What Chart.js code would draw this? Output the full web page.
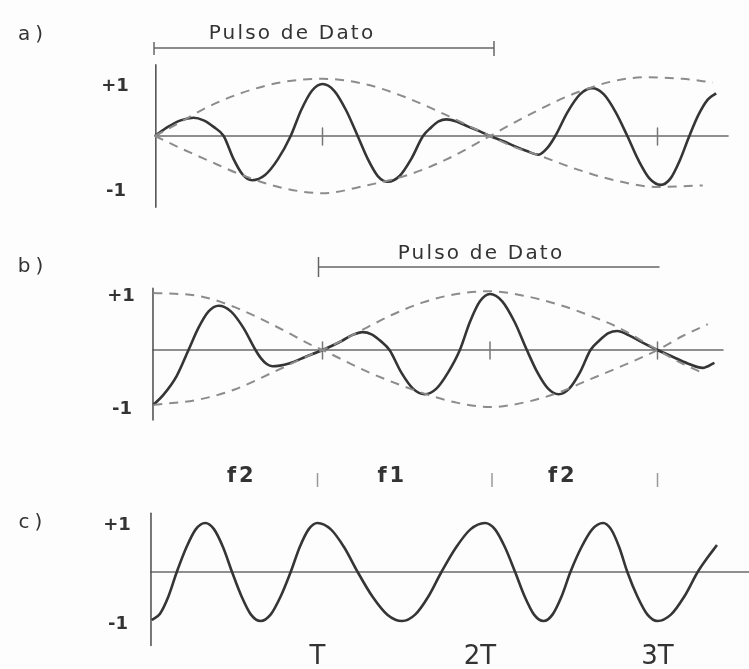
<!DOCTYPE html>
<html>
<head>
<meta charset="utf-8">
<script src="https://cdn.jsdelivr.net/npm/chart.js@4.4.0/dist/chart.umd.min.js"></script>
<style>
  html, body { margin: 0; padding: 0; background: #fdfdfd; }
  #wrap { position: relative; width: 749px; height: 669px; }
</style>
</head>
<body>
<div id="wrap"><canvas id="chart" width="749" height="669"></canvas></div>
<script>
// ── DATA (time in units of T, amplitude in units of the +1/-1 marks) ──
// a) signal and its two dashed envelopes
const tA = [0, 0.077, 0.153, 0.23, 0.29, 0.35, 0.41, 0.467, 0.523, 0.58, 0.657, 0.733, 0.81, 0.873, 0.937, 1.0, 1.07, 1.14, 1.21, 1.27, 1.33, 1.39, 1.46, 1.53, 1.60, 1.647, 1.693, 1.74, 1.80, 1.87, 1.94, 2.0, 2.08, 2.15, 2.22, 2.29, 2.34, 2.39, 2.463, 2.537, 2.61, 2.68, 2.75, 2.82, 2.887, 2.953, 3.02, 3.077, 3.133, 3.19, 3.245, 3.30, 3.35];
const vA = [0, 0.175, 0.30, 0.35, 0.30, 0.175, 0, -0.43, -0.74, -0.85, -0.75, -0.45, 0, 0.5, 0.87, 1.0, 0.87, 0.5, 0, -0.44, -0.77, -0.88, -0.77, -0.44, 0, 0.16, 0.28, 0.32, 0.28, 0.18, 0.09, 0, -0.1, -0.2, -0.29, -0.36, -0.24, 0, 0.46, 0.8, 0.92, 0.8, 0.46, 0, -0.47, -0.82, -0.94, -0.82, -0.47, 0, 0.41, 0.7, 0.82];
const tEnvA1 = [0, 0.17, 0.31, 0.51, 0.75, 1.0, 1.25, 1.5, 1.74, 2.0, 2.15, 2.29, 2.5, 2.73, 3.0, 3.27];
const vEnvA1 = [0, 0.3, 0.55, 0.82, 1.03, 1.1, 1.0, 0.74, 0.4, 0, -0.22, -0.37, -0.62, -0.84, -0.98, -0.95];
const tEnvA2 = [0, 0.17, 0.31, 0.51, 0.75, 1.0, 1.25, 1.52, 1.74, 2.0, 2.17, 2.46, 2.73, 2.94, 3.15, 3.33];
const vEnvA2 = [0, -0.26, -0.46, -0.74, -0.99, -1.1, -0.96, -0.74, -0.45, 0, 0.3, 0.76, 1.05, 1.13, 1.1, 1.03];

// b) signal and its two dashed envelopes
const tB = [-0.01, 0.05, 0.13, 0.20, 0.26, 0.32, 0.38, 0.453, 0.527, 0.60, 0.633, 0.667, 0.70, 0.80, 0.90, 1.0, 1.06, 1.12, 1.18, 1.24, 1.293, 1.347, 1.40, 1.47, 1.54, 1.61, 1.68, 1.75, 1.82, 1.88, 1.94, 2.0, 2.073, 2.147, 2.22, 2.283, 2.347, 2.41, 2.473, 2.537, 2.60, 2.653, 2.707, 2.76, 2.83, 2.90, 3.0, 3.09, 3.18, 3.27, 3.34];
const vB = [-0.98, -0.8, -0.46, 0, 0.4, 0.69, 0.79, 0.69, 0.4, 0, -0.15, -0.25, -0.29, -0.24, -0.12, 0, 0.08, 0.17, 0.27, 0.32, 0.28, 0.16, 0, -0.4, -0.69, -0.79, -0.69, -0.4, 0, 0.5, 0.87, 1.0, 0.87, 0.5, 0, -0.4, -0.69, -0.79, -0.69, -0.4, 0, 0.17, 0.3, 0.34, 0.26, 0.15, 0, -0.12, -0.24, -0.32, -0.23];
const tEnvB1 = [-0.01, 0.27, 0.48, 0.71, 0.94, 1.0, 1.27, 1.46, 1.63, 1.80, 2.0, 2.2, 2.4, 2.6, 2.8, 3.0, 3.15, 3.3];
const vEnvB1 = [1.02, 0.96, 0.76, 0.44, 0.08, 0, -0.39, -0.62, -0.8, -0.94, -1.02, -0.94, -0.77, -0.52, -0.27, 0, 0.25, 0.46];
const tEnvB2 = [-0.01, 0.27, 0.48, 0.71, 0.94, 1.0, 1.27, 1.41, 1.6, 1.8, 2.0, 2.2, 2.4, 2.6, 2.76, 3.0, 3.14, 3.27];
const vEnvB2 = [-0.98, -0.88, -0.7, -0.39, -0.07, 0, 0.41, 0.62, 0.85, 1.0, 1.05, 0.97, 0.82, 0.61, 0.41, 0, -0.23, -0.41];

// c) FSK signal
const tC = [-0.02, 0.03, 0.08, 0.13, 0.187, 0.243, 0.30, 0.353, 0.407, 0.46, 0.517, 0.573, 0.63, 0.69, 0.75, 0.81, 0.863, 0.917, 0.97, 1.05, 1.13, 1.21, 1.298, 1.387, 1.475, 1.553, 1.632, 1.71, 1.797, 1.883, 1.97, 2.03, 2.09, 2.15, 2.207, 2.263, 2.32, 2.373, 2.427, 2.48, 2.545, 2.61, 2.675, 2.723, 2.772, 2.82, 2.88, 2.94, 3.0, 3.08, 3.16, 3.24, 3.30, 3.355];
const vC = [-0.98, -0.85, -0.5, 0, 0.5, 0.87, 1.0, 0.87, 0.5, 0, -0.5, -0.87, -1.0, -0.87, -0.5, 0, 0.5, 0.87, 1.0, 0.87, 0.5, 0, -0.5, -0.87, -1.0, -0.87, -0.5, 0, 0.5, 0.87, 1.0, 0.87, 0.5, 0, -0.5, -0.87, -1.0, -0.87, -0.5, 0, 0.5, 0.87, 1.0, 0.87, 0.5, 0, -0.5, -0.87, -1.0, -0.87, -0.5, 0, 0.3, 0.55];

// labels
const PANEL_LABELS = ['a)', 'b)', 'c)'];
const PULSE_TEXT = 'Pulso de Dato';
const PULSE_A = [0, 2];
const PULSE_B = [1, 3];
const T_TICKS = [1, 2, 3];
const T_LABELS = ['T', '2T', '3T'];
const F_LABELS = ['f2', 'f1', 'f2'];

// ── LAYOUT ─────────────────────────────────────────
const W = 749, H = 669;
const X0 = 155, TPX = 167.5;            // pixel of t=0, pixels per T
const PANELS = {
  ya: { zero: 136, unit: 52 },
  yb: { zero: 350, unit: 56 },
  yc: { zero: 572, unit: 49 },
};
const INK = '#353535';
const DASH = '#8c8c8c';
const FONT = '"DejaVu Sans", sans-serif';

const pts = (ts, vs) => ts.map((t, i) => ({ x: t, y: vs[i] }));

function yScale(p) {
  return { type: 'linear', display: false, min: -(H - p.zero) / p.unit, max: p.zero / p.unit };
}

function signal(ts, vs, axis) {
  return {
    data: pts(ts, vs), yAxisID: axis, borderColor: INK, borderWidth: 2.6,
    pointRadius: 0, cubicInterpolationMode: 'monotone', fill: false,
  };
}
function envelope(ts, vs, axis) {
  return {
    data: pts(ts, vs), yAxisID: axis, borderColor: DASH, borderWidth: 2,
    borderDash: [9, 7], pointRadius: 0, cubicInterpolationMode: 'monotone', fill: false,
  };
}

function seg(ctx, x1, y1, x2, y2) {
  ctx.beginPath();
  ctx.moveTo(x1, y1);
  ctx.lineTo(x2, y2);
  ctx.stroke();
}

function label(ctx, str, x, y, font, spacing) {
  ctx.font = `${font} ${FONT}`;
  if ('letterSpacing' in ctx) ctx.letterSpacing = (spacing || 0) + 'px';
  ctx.fillText(str, x, y);
}

// axes, zero lines, tick marks and texts
const decor = {
  id: 'decor',
  beforeDatasetsDraw(chart) {
    const { ctx, scales } = chart;
    const x = scales.x;
    const axes = [
      { id: 'ya', ax: 0.005, top: 1.37, bot: -1.37, z0: 0, z1: 3.42, ticks: [1, 3] },
      { id: 'yb', ax: -0.012, top: 1.1, bot: -1.25, z0: -0.012, z1: 3.39, ticks: [1, 2, 3] },
      { id: 'yc', ax: -0.024, top: 1.2, bot: -1.5, z0: -0.024, z1: 3.6, ticks: [] },
    ];
    ctx.save();
    ctx.lineCap = 'round';
    axes.forEach(a => {
      const y = scales[a.id];
      const y0 = y.getPixelForValue(0);
      ctx.strokeStyle = '#8f8f8f';
      ctx.lineWidth = 2;
      seg(ctx, x.getPixelForValue(a.z0), y0, x.getPixelForValue(a.z1), y0);
      ctx.strokeStyle = '#555';
      ctx.lineWidth = 1.6;
      const ax = x.getPixelForValue(a.ax);
      seg(ctx, ax, y.getPixelForValue(a.top), ax, y.getPixelForValue(a.bot));
      ctx.strokeStyle = '#777';
      ctx.lineWidth = 1.5;
      a.ticks.forEach(t => {
        const px = x.getPixelForValue(t);
        seg(ctx, px, y0 - 8, px, y0 + 9);
      });
    });
    ctx.restore();
  },
  afterDatasetsDraw(chart) {
    const { ctx, scales } = chart;
    const x = scales.x;
    const ya = scales.ya, yb = scales.yb, yc = scales.yc;
    ctx.save();
    ctx.fillStyle = '#333';
    ctx.textAlign = 'center';
    ctx.textBaseline = 'middle';

    // panel letters
    [35, 267, 523].forEach((py, i) => label(ctx, PANEL_LABELS[i], 33, py, '20px', 5));

    // +1 / -1
    [[ya, 115], [yb, 121], [yc, 117]].forEach(([s, px]) => {
      label(ctx, '+1', px, s.getPixelForValue(1) + 2, '600 18px', 0);
      label(ctx, '-1', px + 1, s.getPixelForValue(-1) + 3, '600 18px', 0);
    });

    // data pulse bars
    ctx.strokeStyle = '#666';
    ctx.lineWidth = 1.5;
    const pa0 = x.getPixelForValue(PULSE_A[0]) - 1, pa1 = x.getPixelForValue(PULSE_A[1]) + 4;
    seg(ctx, pa0, 48, pa1, 48);
    seg(ctx, pa0, 42, pa0, 55);
    seg(ctx, pa1, 41, pa1, 56);
    label(ctx, PULSE_TEXT, 292, 34, '20px', 2.2);

    const pb0 = x.getPixelForValue(PULSE_B[0]) - 4, pb1 = x.getPixelForValue(PULSE_B[1]) + 2;
    seg(ctx, pb0, 267, pb1, 267);
    seg(ctx, pb0, 257, pb0, 277);
    label(ctx, PULSE_TEXT, 481, 254, '20px', 2.2);

    // f1 / f2 row with separators
    const fNudge = [3, -14, -11];
    F_LABELS.forEach((f, i) => {
      label(ctx, f, x.getPixelForValue(i + 0.5) + fNudge[i], 477, '600 21px', 3);
    });
    const sepNudge = [-5, 2, 0];
    ctx.strokeStyle = '#999';
    ctx.lineWidth = 1.5;
    T_TICKS.forEach((t, i) => {
      const px = x.getPixelForValue(t) + sepNudge[i];
      seg(ctx, px, 473, px, 487);
    });

    // T, 2T, 3T
    const tNudge = [-5, -10, 0];
    T_TICKS.forEach((t, i) => {
      label(ctx, T_LABELS[i], x.getPixelForValue(t) + tNudge[i], 657, '26px', 0);
    });
    ctx.restore();
  }
};

new Chart(document.getElementById('chart'), {
  type: 'line',
  data: {
    datasets: [
      envelope(tEnvA1, vEnvA1, 'ya'),
      envelope(tEnvA2, vEnvA2, 'ya'),
      signal(tA, vA, 'ya'),
      envelope(tEnvB1, vEnvB1, 'yb'),
      envelope(tEnvB2, vEnvB2, 'yb'),
      signal(tB, vB, 'yb'),
      signal(tC, vC, 'yc'),
    ]
  },
  options: {
    responsive: false,
    animation: false,
    devicePixelRatio: 1,
    layout: { padding: 0 },
    plugins: { legend: { display: false }, tooltip: { enabled: false } },
    scales: {
      x: { type: 'linear', display: false, min: -X0 / TPX, max: (W - X0) / TPX },
      ya: yScale(PANELS.ya),
      yb: yScale(PANELS.yb),
      yc: yScale(PANELS.yc),
    }
  },
  plugins: [decor]
});
</script>
</body>
</html>
